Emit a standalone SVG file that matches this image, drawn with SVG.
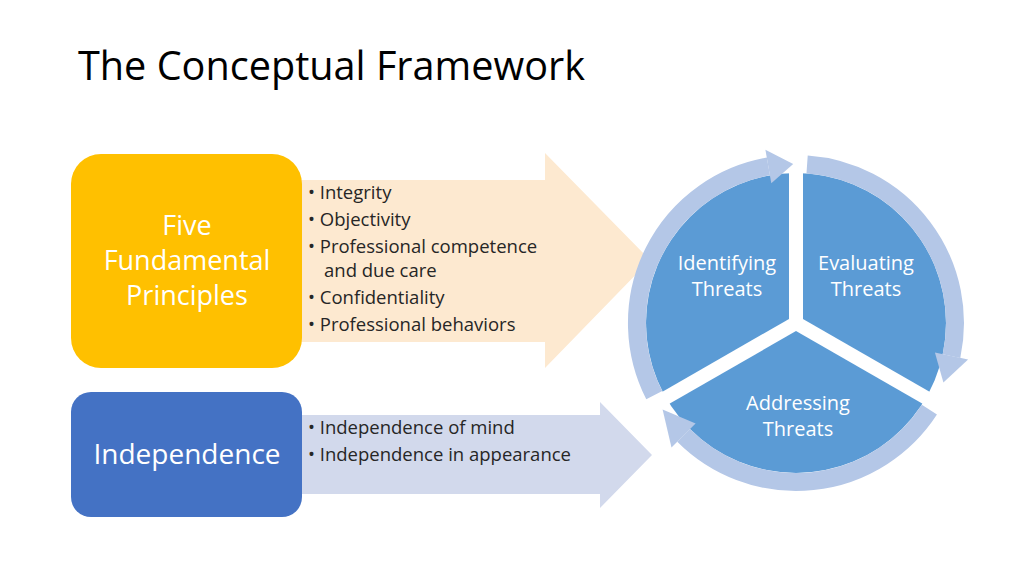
<svg xmlns="http://www.w3.org/2000/svg" width="1024" height="576" viewBox="0 0 1024 576">
<style>
text{font-family:"Open Sans","Liberation Sans",sans-serif}
.b{font-size:18.5px;fill:#262626}
.w{fill:#fff;text-anchor:middle}
.ring{fill:none;stroke:#B4C7E7;stroke-width:18}
.ah{fill:#B4C7E7}
</style>
<rect width="1024" height="576" fill="#fff"/>
<text x="78" y="80" font-size="40" fill="#000" textLength="507" lengthAdjust="spacingAndGlyphs">The Conceptual Framework</text>
<g id="arrow1"><polygon points="290,180 545,180 545,153 650,260 545,368 545,342 290,342" fill="#FDE9D0"/></g>
<g id="arrow2"><polygon points="290,415 600,415 600,402 652,455 600,508 600,494 290,494" fill="#D2D9EC"/></g>
<g id="five"><rect x="71" y="154" width="231" height="214" rx="30" fill="#FFC000"/>
<text class="w" font-size="27"><tspan x="187" y="235">Five</tspan><tspan x="187" y="270">Fundamental</tspan><tspan x="187" y="305">Principles</tspan></text></g>
<g id="indep"><rect x="71" y="392" width="231" height="125" rx="20" fill="#4472C4"/>
<text class="w" font-size="28" x="187" y="464">Independence</text></g>
<g id="list1" class="b"><text class="b" x="308" y="199">• Integrity</text><text class="b" x="308" y="226">• Objectivity</text><text class="b" x="308" y="253">• Professional competence</text><text class="b" x="324" y="277">and due care</text><text class="b" x="308" y="304">• Confidentiality</text><text class="b" x="308" y="331">• Professional behaviors</text></g>
<g id="list2"><text class="b" x="308" y="434">• Independence of mind</text><text class="b" x="308" y="461">• Independence in appearance</text></g>
<g id="cycle">
<circle cx="796" cy="323" r="150" fill="#5B9BD5"/>
<g stroke="#fff" stroke-width="14"><line x1="796" y1="323" x2="796" y2="170"/><line x1="796" y1="323" x2="930" y2="400"/><line x1="796" y1="323" x2="662" y2="400"/></g>
</g>
<g id="connectors">
<path class="ring" d="M654.3,395.2 A159,159 0 0 1 768.4,166.4"/>
<polygon class="ah" points="771.3,183.2 765.4,149.7 793.2,164"/>
<path class="ring" d="M807.1,164.4 A159,159 0 0 1 951.5,356.1"/>
<polygon class="ah" points="934.9,352.5 968.1,359.6 943.4,382.6"/>
<path class="ring" d="M929.4,409.6 A159,159 0 0 1 683.6,435.4"/>
<polygon class="ah" points="695.6,423.4 671.5,447.5 662.6,409.6"/>
</g>
<g id="labels" font-size="20">
<text class="w" font-size="20"><tspan x="727" y="270">Identifying</tspan><tspan x="727" y="296">Threats</tspan></text>
<text class="w" font-size="20"><tspan x="866" y="270">Evaluating</tspan><tspan x="866" y="296">Threats</tspan></text>
<text class="w" font-size="20"><tspan x="798" y="410">Addressing</tspan><tspan x="798" y="436">Threats</tspan></text>
</g>
</svg>
